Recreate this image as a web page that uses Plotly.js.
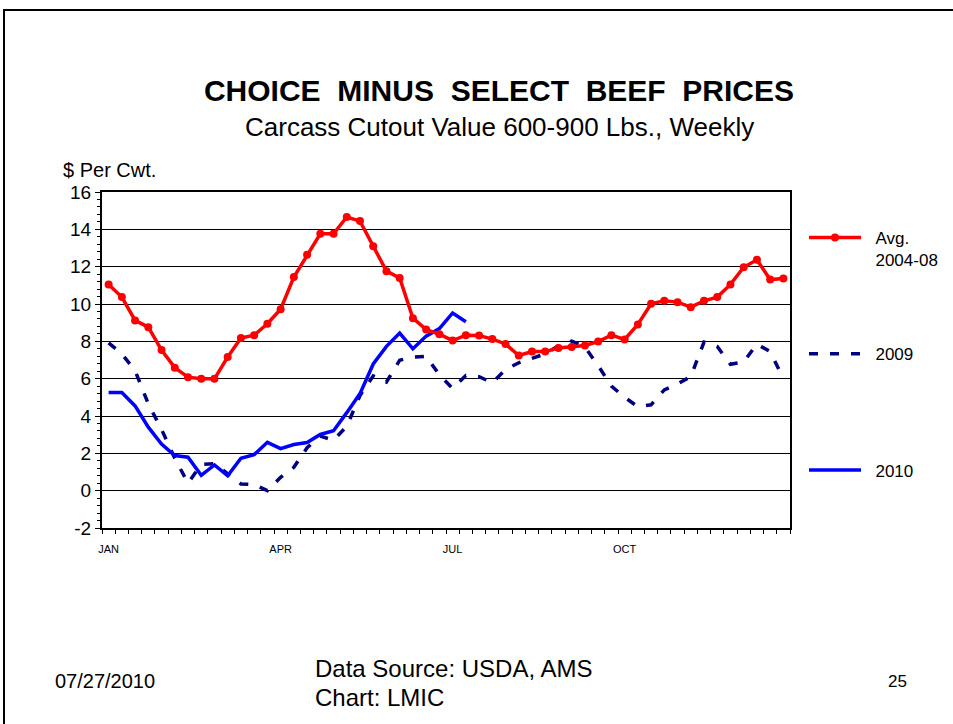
<!DOCTYPE html>
<html>
<head>
<meta charset="utf-8">
<script src="https://cdn.plot.ly/plotly-3.0.1.min.js"></script>
<style>
  html, body { margin: 0; padding: 0; background: #fff; }
  #wrap { position: relative; width: 953px; height: 724px; overflow: hidden; }
  #chart { position: absolute; left: 0; top: 0; width: 953px; height: 724px; }
  .frame { position: absolute; background: #000; }
</style>
</head>
<body>
<div id="wrap">
  <div id="chart"></div>
  <div class="frame" style="left:3px; top:9px; width:950px; height:2px;"></div>
  <div class="frame" style="left:3px; top:9px; width:2px; height:715px;"></div>
</div>
<script>
// Week numbers (1..52)
const weeks = [1,2,3,4,5,6,7,8,9,10,11,12,13,14,15,16,17,18,19,20,21,22,23,24,25,26,
               27,28,29,30,31,32,33,34,35,36,37,38,39,40,41,42,43,44,45,46,47,48,49,50,51,52];
const weeks2010 = [1,2,3,4,5,6,7,8,9,10,11,12,13,14,15,16,17,18,19,20,21,22,23,24,25,26,27,28];

// Avg. 2004-08 ($ per cwt)
const avg0408 = [11.05,10.37,9.12,8.76,7.53,6.59,6.08,5.99,5.99,7.16,8.18,8.33,8.94,9.72,11.44,12.64,
                 13.76,13.76,14.66,14.44,13.10,11.76,11.39,9.24,8.63,8.38,8.04,8.33,8.31,8.12,7.86,7.24,
                 7.45,7.45,7.64,7.70,7.78,7.99,8.33,8.10,8.90,10.01,10.17,10.10,9.83,10.17,10.37,11.05,
                 11.97,12.37,11.31,11.37];

// 2009
const y2009 = [7.92,7.33,6.43,4.65,3.28,1.74,0.40,1.40,1.45,0.88,0.36,0.32,0.00,0.72,1.25,2.30,
               2.92,2.70,3.45,5.10,6.15,5.82,6.99,7.15,7.20,6.20,5.47,6.17,6.11,5.78,6.49,6.85,
               7.10,7.33,7.76,8.01,7.69,6.70,5.60,5.00,4.50,4.60,5.40,5.72,6.11,7.96,7.72,6.77,
               6.90,7.85,7.45,6.00];

// 2010
const y2010 = [5.26,5.26,4.54,3.40,2.50,1.88,1.79,0.82,1.38,0.80,1.74,1.93,2.59,2.25,2.47,2.58,
               3.01,3.21,4.18,5.20,6.79,7.73,8.44,7.60,8.28,8.68,9.52,9.05];

const monthTickWeeks = [1,14,27,40];
const monthTickLabels = ['JAN','APR','JUL','OCT'];
const yTickVals = [-2,0,2,4,6,8,10,12,14,16];
const yTickLabels = ['-2','0','2','4','6','8','10','12','14','16'];

const seriesNames = ['\u00a0\u00a0Avg.<br>\u00a0\u00a02004-08', '\u00a0\u00a02009<br>\u00a0', '\u00a0\u00a02010'];

const FONT = 'Liberation Sans, Arial, sans-serif';

const traces = [
  {
    x: weeks, y: y2009, type: 'scatter', mode: 'lines', name: seriesNames[1],
    legendgroup: 'g2009', legendrank: 2,
    line: {color: '#000080', width: 3.5, dash: '9px,12px'}
  },
  {
    x: weeks2010, y: y2010, type: 'scatter', mode: 'lines', name: seriesNames[2],
    legendgroup: 'g2010', legendrank: 3,
    line: {color: '#0000FF', width: 3.5}
  },
  {
    x: weeks, y: avg0408, type: 'scatter', mode: 'lines+markers', name: seriesNames[0],
    legendgroup: 'gavg', legendrank: 1,
    line: {color: '#FF0000', width: 3.5},
    marker: {color: '#FF0000', size: 8, symbol: 'circle'}
  }
];

const layout = {
  width: 953, height: 724,
  margin: {l: 102, r: 163, t: 192, b: 196, autoexpand: false},
  paper_bgcolor: '#ffffff', plot_bgcolor: '#ffffff',
  font: {family: FONT, color: '#000'},
  title: {
    text: 'CHOICE\u00a0 MINUS\u00a0 SELECT\u00a0 BEEF\u00a0 PRICES',
    font: {family: FONT, size: 30, color: '#000', weight: 'bold'},
    x: 499/953, xanchor: 'center', xref: 'container',
    y: 1 - 90/724, yanchor: 'middle', yref: 'container'
  },
  xaxis: {
    range: [0.5, 52.5],
    tickmode: 'array', tickvals: monthTickWeeks, ticktext: monthTickLabels,
    ticks: '', ticklabelstandoff: 10, tickfont: {family: FONT, size: 11, color: '#000'},
    showgrid: false, zeroline: false,
    showline: true, linecolor: '#000', linewidth: 2, mirror: true,
    minor: {tickmode: 'linear', tick0: 0.5, dtick: 1, ticks: 'outside', ticklen: 4,
            tickcolor: '#000', tickwidth: 1, showgrid: false},
    fixedrange: true
  },
  yaxis: {
    range: [-2, 16], tickmode: 'array', tickvals: yTickVals, ticktext: yTickLabels,
    ticks: 'outside', ticklen: 5, tickcolor: '#000', tickwidth: 1,
    tickfont: {family: FONT, size: 19, color: '#000'},
    showgrid: true, gridcolor: '#000', gridwidth: 1,
    zeroline: false,
    showline: true, linecolor: '#000', linewidth: 2, mirror: true,
    minor: {tickmode: 'linear', tick0: -2, dtick: 0.4, ticks: 'outside', ticklen: 3,
            tickcolor: '#000', tickwidth: 1, showgrid: false},
    fixedrange: true
  },
  showlegend: true,
  legend: {
    xref: 'container', yref: 'container',
    x: 804/953, xanchor: 'left', y: 1 - 220/724, yanchor: 'top',
    traceorder: 'grouped', tracegroupgap: 69, valign: 'top',
    itemwidth: 52,
    font: {family: FONT, size: 17, color: '#000'},
    bgcolor: 'rgba(0,0,0,0)', borderwidth: 0
  },
  annotations: [
    {text: 'Carcass Cutout Value 600-900 Lbs., Weekly', xref: 'paper', yref: 'paper',
     x: (499-102)/688, y: (528-127)/336, xanchor: 'center', yanchor: 'middle', showarrow: false,
     font: {family: FONT, size: 26, color: '#000'}},
    {text: '$ Per Cwt.', xref: 'paper', yref: 'paper',
     x: (61-102)/688, y: (528-170)/336, xanchor: 'left', yanchor: 'middle', showarrow: false,
     font: {family: FONT, size: 20, color: '#000'}},
    {text: '07/27/2010', xref: 'paper', yref: 'paper',
     x: (53-102)/688, y: (528-681)/336, xanchor: 'left', yanchor: 'middle', showarrow: false,
     font: {family: FONT, size: 20, color: '#000'}},
    {text: 'Data Source: USDA, AMS', xref: 'paper', yref: 'paper',
     x: (313-102)/688, y: (528-668)/336, xanchor: 'left', yanchor: 'middle', showarrow: false,
     font: {family: FONT, size: 24, color: '#000'}},
    {text: 'Chart: LMIC', xref: 'paper', yref: 'paper',
     x: (313-102)/688, y: (528-697)/336, xanchor: 'left', yanchor: 'middle', showarrow: false,
     font: {family: FONT, size: 24, color: '#000'}},
    {text: '25', xref: 'paper', yref: 'paper',
     x: (897-102)/688, y: (528-681)/336, xanchor: 'center', yanchor: 'middle', showarrow: false,
     font: {family: FONT, size: 17, color: '#000'}}
  ]
};

Plotly.newPlot('chart', traces, layout, {displayModeBar: false, staticPlot: true});
</script>
</body>
</html>
